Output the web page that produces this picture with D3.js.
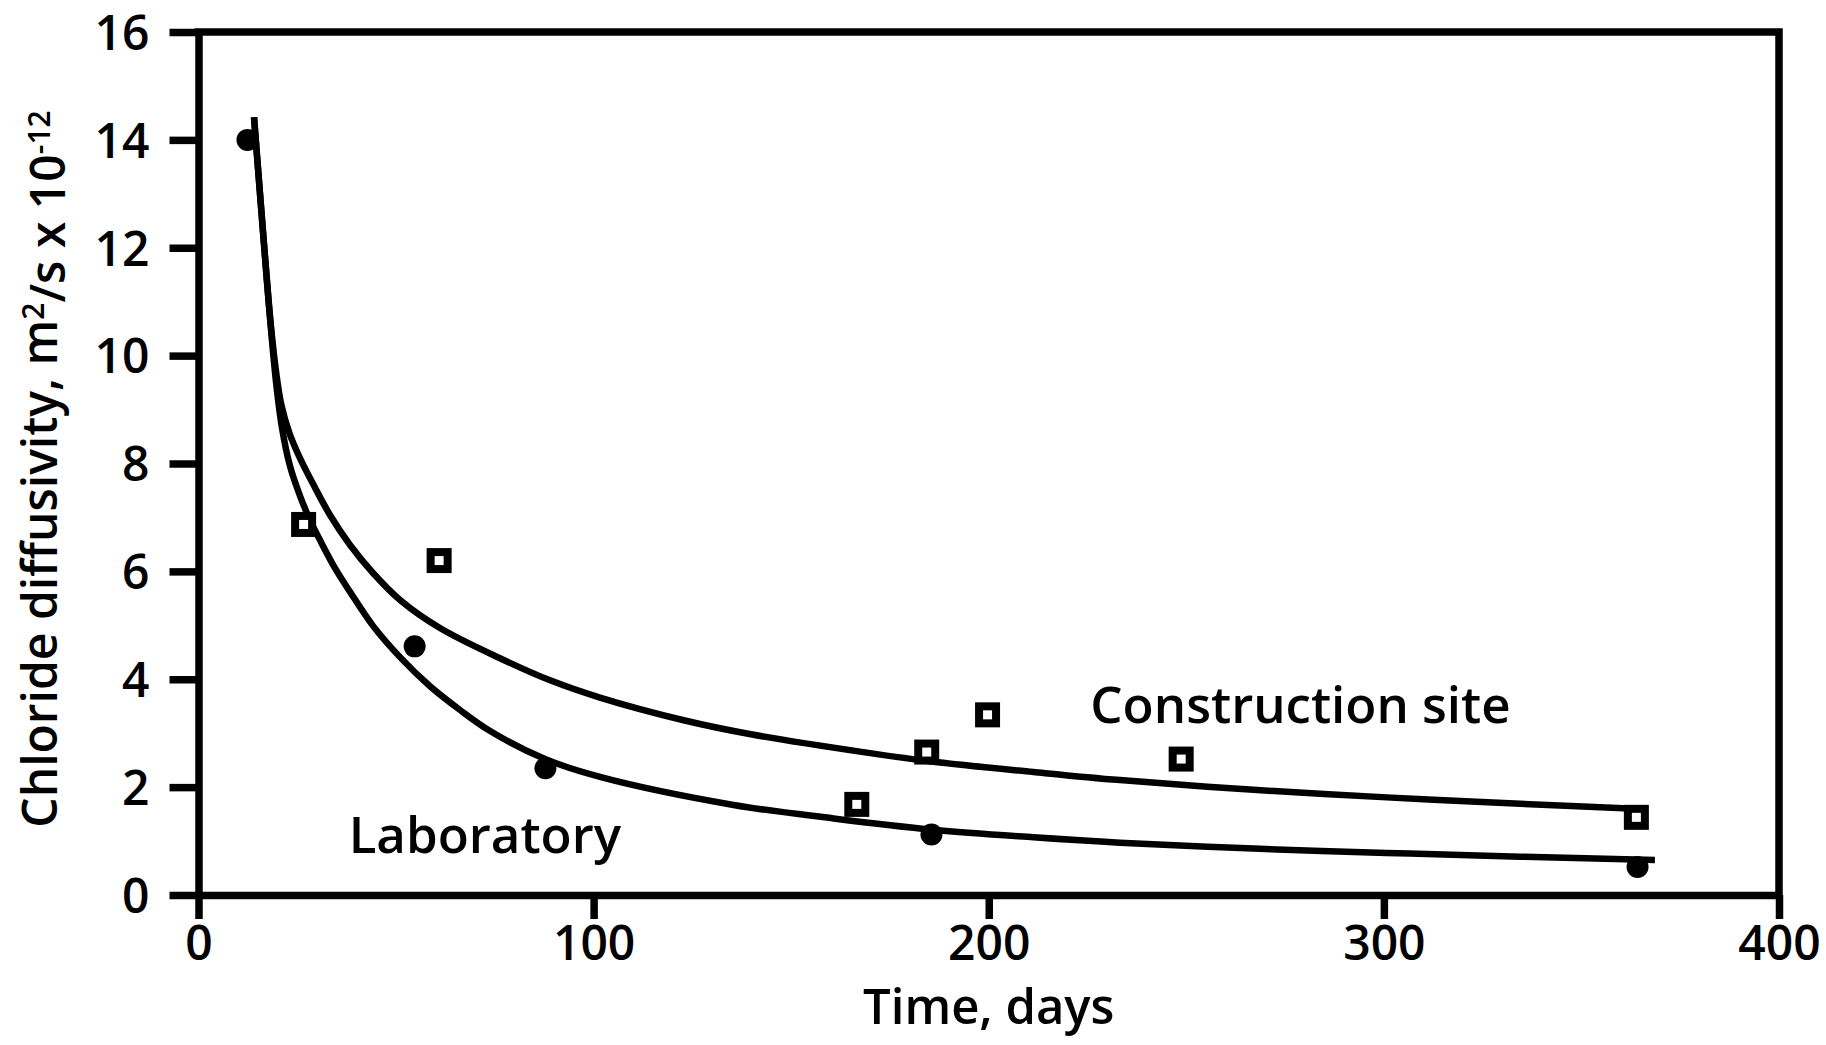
<!DOCTYPE html>
<html lang="en">

<head>
  <meta charset="UTF-8" />
  <title>Chloride diffusivity vs time</title>
  <script src="https://d3js.org/d3.v7.js"></script>
  <style>
    body { margin: 0; background: #fff; }
    text { font-family: "Open Sans", "Noto Sans", sans-serif; font-weight: 600; fill: #000; }
  </style>
</head>

<body>
  <div id="graph-space"></div>
</body>
<script>
  // measured points
  const labDays = [12.4, 54.7, 87.8, 185.5, 364.2]
  const labD = [14.0, 4.61, 2.35, 1.12, 0.52]
  const siteDays = [26.6, 60.9, 166.6, 184.3, 199.7, 248.7, 363.9]
  const siteD = [6.87, 6.20, 1.68, 2.65, 3.34, 2.52, 1.44]

  // fitted curves
  const labCurveDays = [14.05, 16.33, 18.1, 19.62, 21.13, 23.16, 25.69, 28.22, 30.75, 34.55, 38.35, 44.17, 51.0, 58.6, 66.2, 73.8, 87.7, 101.6, 135.4, 160.7, 186.0, 211.3, 233.2, 267.0, 300.7, 334.5, 368.6]
  const labCurveD = [14.42, 12.29, 10.70, 9.51, 8.66, 7.95, 7.40, 6.95, 6.58, 6.06, 5.62, 4.99, 4.41, 3.87, 3.43, 3.04, 2.52, 2.19, 1.67, 1.42, 1.21, 1.07, 0.97, 0.86, 0.78, 0.71, 0.65]
  const siteCurveDays = [14.05, 16.33, 18.06, 19.58, 20.99, 23.03, 25.56, 29.36, 33.16, 38.35, 44.17, 51.0, 61.1, 76.3, 89.0, 101.6, 122.8, 139.8, 169.1, 186.0, 211.3, 233.2, 267.0, 300.7, 334.5, 366.5]
  const siteCurveD = [14.42, 12.29, 10.75, 9.73, 9.08, 8.56, 8.12, 7.57, 7.06, 6.49, 5.97, 5.47, 4.95, 4.39, 3.98, 3.66, 3.24, 2.98, 2.64, 2.47, 2.28, 2.13, 1.95, 1.81, 1.69, 1.59]

  const xTicks = [0, 100, 200, 300, 400]
  const yTicks = [0, 2, 4, 6, 8, 10, 12, 14, 16]

  const width = 1826
  const height = 1045
  const margin = { left: 198.5, top: 32, right: 47, bottom: 150 }

  const svg = d3.select("#graph-space")
    .append("svg")
    .attr("width", width)
    .attr("height", height)

  const xScale = d3.scaleLinear()
    .domain([0, 400])
    .range([margin.left, width - margin.right])
  const yScale = d3.scaleLinear()
    .domain([0, 16])
    .range([height - margin.bottom, margin.top])

  const axisWidth = 7.5

  // x axis
  const xAxis = svg.append('g')
    .attr('transform', `translate(0,${yScale(0)})`)
    .call(d3.axisBottom(xScale).tickValues(xTicks).tickSize(24).tickSizeOuter(0).tickPadding(4))
  // y axis
  const yAxis = svg.append('g')
    .attr('transform', `translate(${xScale(0)},0)`)
    .call(d3.axisLeft(yScale).tickValues(yTicks).tickSize(29).tickSizeOuter(0).tickPadding(20))

  for (const ax of [xAxis, yAxis]) {
    ax.select('.domain').attr('stroke', '#000').attr('stroke-width', axisWidth)
    ax.selectAll('.tick line').attr('stroke', '#000').attr('stroke-width', axisWidth)
    ax.selectAll('.tick text').style('font-size', '48px').attr('fill', '#000')
    ax.attr('font-family', null).attr('font-size', null)
  }
  xAxis.selectAll('.tick text').attr('dy', '0.78em')
  yAxis.selectAll('.tick text').attr('dy', '0.36em')

  // top and right border of the frame
  svg.append('path')
    .attr('d', d3.line()([[xScale(0), yScale(16)], [xScale(400), yScale(16)], [xScale(400), yScale(0)]]))
    .attr('fill', 'none')
    .attr('stroke', '#000')
    .attr('stroke-width', axisWidth)
    .attr('stroke-linecap', 'square')

  // curves
  const line = d3.line()
    .x(d => xScale(d[0]))
    .y(d => yScale(d[1]))
    .curve(d3.curveCatmullRom.alpha(0.5))

  svg.append('path')
    .attr('d', line(d3.zip(siteCurveDays, siteCurveD)))
    .attr('fill', 'none').attr('stroke', '#000').attr('stroke-width', 6.5)
  svg.append('path')
    .attr('d', line(d3.zip(labCurveDays, labCurveD)))
    .attr('fill', 'none').attr('stroke', '#000').attr('stroke-width', 6.5)

  // laboratory points (filled circles)
  svg.selectAll('circle.lab')
    .data(d3.zip(labDays, labD))
    .join('circle')
    .attr('class', 'lab')
    .attr('cx', d => xScale(d[0]))
    .attr('cy', d => yScale(d[1]))
    .attr('r', 11)
    .attr('fill', '#000')

  // construction site points (open squares)
  const sq = 17
  svg.selectAll('rect.site')
    .data(d3.zip(siteDays, siteD))
    .join('rect')
    .attr('class', 'site')
    .attr('x', d => xScale(d[0]) - sq / 2)
    .attr('y', d => yScale(d[1]) - sq / 2)
    .attr('width', sq)
    .attr('height', sq)
    .attr('fill', '#fff')
    .attr('stroke', '#000')
    .attr('stroke-width', 8)

  // labels
  svg.append('text')
    .attr('x', xScale(38))
    .attr('y', yScale(0.78))
    .style('font-size', '51px')
    .text('Laboratory')
  svg.append('text')
    .attr('x', xScale(225.7))
    .attr('y', yScale(3.19))
    .style('font-size', '51px')
    .text('Construction site')

  svg.append('text')
    .attr('x', (xScale(0) + xScale(400)) / 2)
    .attr('y', 1024)
    .attr('text-anchor', 'middle')
    .style('font-size', '49px')
    .text('Time, days')

  const yLabel = svg.append('text')
    .attr('transform', `translate(57,469) rotate(-90)`)
    .attr('text-anchor', 'middle')
    .style('font-size', '48px')
  yLabel.append('tspan').text('Chloride diffusivity, m')
  yLabel.append('tspan').attr('dy', '-0.45em').style('font-size', '30px').text('2')
  yLabel.append('tspan').attr('dy', '0.45em').text('/s x 10')
  yLabel.append('tspan').attr('dy', '-0.5em').style('font-size', '30px').text('-12')
</script>

</html>
